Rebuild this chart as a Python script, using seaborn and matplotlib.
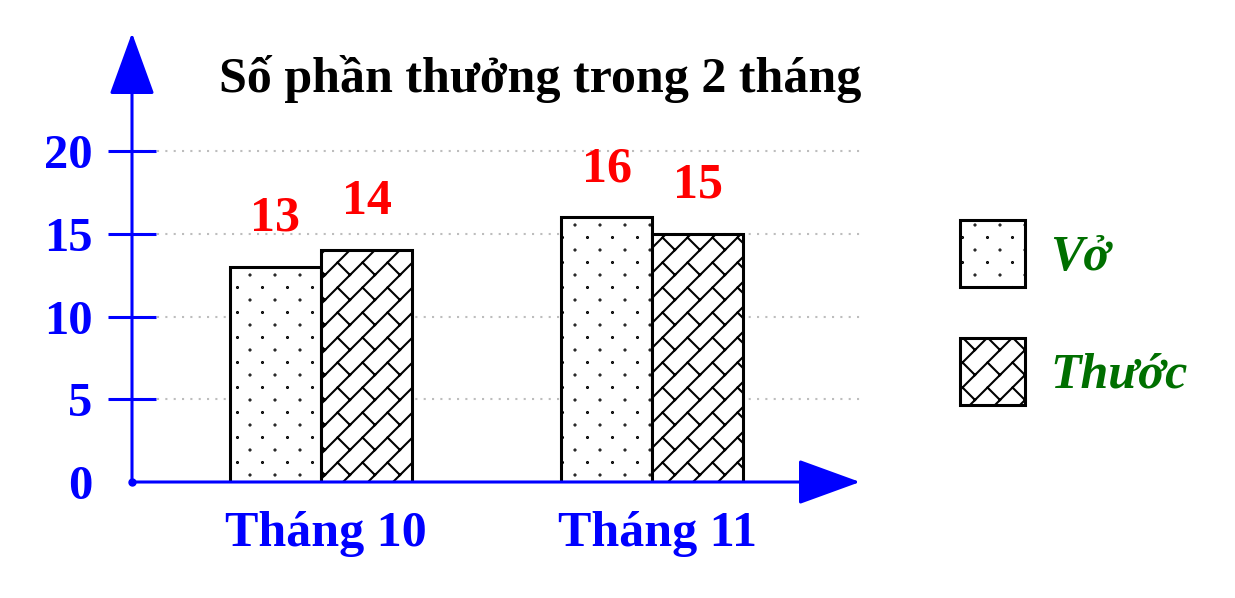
import warnings
warnings.filterwarnings("ignore")
import numpy as np
import pandas as pd
import matplotlib
matplotlib.use("Agg")
import matplotlib.pyplot as plt
import matplotlib.hatch as mhatch
import matplotlib.transforms as mtransforms
from matplotlib.path import Path
import seaborn as sns

# ---------------- data ----------------
months = ["Tháng 10", "Tháng 11"]
items = ["Vở", "Thước"]
vo = [13, 16]
thuoc = [14, 15]
yticks = [0, 5, 10, 15, 20]
title = "Số phần thưởng trong 2 tháng"


# ---------------- custom diagonal brick hatch ('b') ----------------
class BrickHatch(mhatch.HatchPatternBase):
    def __init__(self, hatch, density):
        segs = []
        if "b" in hatch:
            m, q = 4, 2
            d = 1.0 / m
            for k in range(-2 * m, 2 * m + 1):
                c = k * d
                segs.append(((-1.0, -1.0 + c), (2.0, 2.0 + c)))
                off = (k % 2) * (0.5 / q)
                for j in range(-3 * q, 3 * q + 1):
                    e = j / q + off
                    p0 = ((e - c) / 2, (e + c) / 2)
                    p1 = ((e - c - d) / 2, (e + c + d) / 2)
                    xs = (p0[0], p1[0]); ys = (p0[1], p1[1])
                    if max(xs) < -0.2 or min(xs) > 1.2 or max(ys) < -0.2 or min(ys) > 1.2:
                        continue
                    segs.append((p0, p1))
        self.segs = segs
        self.num_vertices = 2 * len(segs)

    def set_vertices_and_codes(self, vertices, codes):
        for i, (a, b) in enumerate(self.segs):
            vertices[2 * i] = a
            vertices[2 * i + 1] = b
        codes[0::2] = Path.MOVETO
        codes[1::2] = Path.LINETO


# ---------------- custom sparse staggered dot hatch ('d') ----------------
class DotHatch(mhatch.HatchPatternBase):
    def __init__(self, hatch, density):
        centers = []
        if "d" in hatch:
            nx, ny = 4, 8
            for r in range(ny + 1):
                y = r / ny
                if r % 2 == 0:
                    xs = [i / nx for i in range(nx + 1)]
                else:
                    xs = [(i + 0.5) / nx for i in range(nx)]
                for x in xs:
                    centers.append((x, y))
        circ = Path.unit_circle()
        self.cv = circ.vertices
        self.cc = circ.codes
        self.centers = centers
        self.num_vertices = len(centers) * len(self.cv)

    def set_vertices_and_codes(self, vertices, codes):
        n = len(self.cv)
        for i, (x, y) in enumerate(self.centers):
            vertices[i * n:(i + 1) * n] = self.cv * 0.005 + np.array([x, y])
            codes[i * n:(i + 1) * n] = self.cc


mhatch._hatch_types.append(BrickHatch)
mhatch._hatch_types.append(DotHatch)

# ---------------- style ----------------
sns.set_theme(style="white")
plt.rcParams["font.family"] = ["Liberation Serif", "DejaVu Serif"]
plt.rcParams["hatch.linewidth"] = 1.5
plt.rcParams["hatch.color"] = "black"

BLUE = "#0000ff"
RED = "#ff0000"
GREEN = "#006f00"

fig = plt.figure(figsize=(12.35, 5.98), dpi=100)
ax = fig.add_axes([132 / 1235, 116 / 598, 728 / 1235, 449 / 598])

df = pd.DataFrame({
    "month": months * 2,
    "item": [items[0]] * len(months) + [items[1]] * len(months),
    "value": vo + thuoc,
})

sns.barplot(data=df, x="month", y="value", hue="item", order=months, hue_order=items,
            palette=["white", "white"], saturation=1, edgecolor="black", linewidth=2.2,
            width=0.549, ax=ax, legend=False, zorder=3)

for cont, h in zip(ax.containers, ["d", "b"]):
    for p in cont:
        p.set_hatch(h)

for cont in ax.containers:
    ax.bar_label(cont, padding=18, color=RED, fontsize=36, fontweight="bold")

ax.set_xlim(-0.570, 1.626)
ax.set_ylim(0, 27.13)
ax.set_xlabel("")
ax.set_ylabel("")
for s in ax.spines.values():
    s.set_visible(False)

# grid (kept beneath the tick marks)
for v in yticks[1:]:
    ax.axhline(v, color="#bdbdbd", lw=1.5, ls=(0, (1, 3)), zorder=0.2)

# axis arrows
for xy in [(0, 1), (1, 0)]:
    ax.annotate("", xy=xy, xytext=(0, 0), xycoords="axes fraction", textcoords="axes fraction",
                arrowprops=dict(arrowstyle="-|>,head_length=3.96,head_width=1.44", color=BLUE,
                                lw=2.2, shrinkA=0, shrinkB=0, mutation_scale=10),
                annotation_clip=False, zorder=6)
ax.plot([0], [0], "o", color=BLUE, ms=5, transform=ax.transAxes, clip_on=False, zorder=7)

# ticks
ax.set_yticks(yticks)
ax.set_yticklabels([str(v) for v in yticks])
ax.tick_params(axis="y", direction="inout", length=34, width=2.2, color=BLUE, pad=11.5,
               labelsize=35, labelcolor=BLUE, left=True)
ax.yaxis.get_major_ticks()[0].tick1line.set_visible(False)
ax.tick_params(axis="x", length=0, pad=21, labelsize=36, labelcolor=BLUE, bottom=False)
shift = mtransforms.ScaledTranslation(5 / 100, 0, fig.dpi_scale_trans)
for lab in ax.get_xticklabels():
    lab.set_transform(lab.get_transform() + shift)
for lab in ax.get_yticklabels() + ax.get_xticklabels():
    lab.set_fontweight("bold")

# legend
leg = ax.legend([ax.containers[0][0], ax.containers[1][0]], items, loc="upper left",
                bbox_to_anchor=(960 / 1235, 1 - 220 / 598), bbox_transform=fig.transFigure,
                frameon=False,
                prop=dict(family="Liberation Serif", weight="bold", style="italic", size=36),
                handlelength=1.3, handleheight=1.685, handletextpad=0.5, labelspacing=1.02,
                borderpad=0, borderaxespad=0)
for t in leg.get_texts():
    t.set_color(GREEN)

fig.text(540 / 1235, 1 - 92 / 598, title, ha="center", va="baseline",
         fontsize=36, fontweight="bold", color="black")

fig.savefig("out.png", dpi=100)
